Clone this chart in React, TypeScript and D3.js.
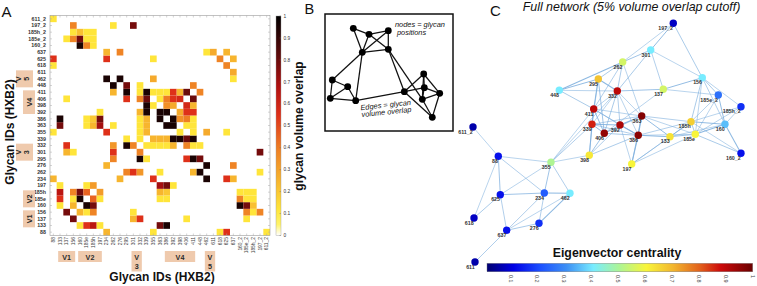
import React from "react";
import * as d3 from "d3";

// ---------------- DATA ----------------
const glycans = ["88","133","137","156","160","185e","185h","197","234","262","276","295","301","332","339","355","363","386","392","398","406","411","448","462","611","618","625","637","160_2","185e_2","185h_2","197_2","611_2"];

// glycan volume overlap (symmetric pairs)
const overlapPairs: [string, string, number][] = [
  ["133","160",0.12],["133","185e",0.55],["133","185h",0.65],["133","197",0.12],
  ["137","156",0.78],["156","160",0.25],["156","185e",0.12],["156","185h",0.38],
  ["160","185e",0.95],["160","185h",0.78],["185e","185h",0.45],["185e","197",0.12],["185h","197",0.32],
  ["88","234",0.25],["133","363",0.78],["133","386",0.95],["185e","363",0.12],["185h","363",0.25],
  ["197","363",0.7],["185e","386",0.12],["185h","386",0.2],["197","386",0.78],["197","392",0.12],
  ["137","406",0.12],["137","301",0.25],["156","301",0.12],["137","332",0.55],
  ["88","355",0.12],["234","355",0.55],["234","276",0.25],
  ["262","295",0.38],["262","301",0.55],["262","332",0.33],["262","363",0.12],["262","411",0.25],["262","448",0.95],
  ["295","332",0.95],["295","339",0.12],["295","406",0.55],["295","411",0.95],["295","448",0.78],
  ["301","332",0.38],["332","339",0.12],["332","355",0.12],["332","363",0.12],["332","386",0.12],["332","392",0.25],
  ["332","406",0.38],["332","411",0.12],["332","448",0.12],
  ["339","355",0.25],["339","363",0.25],["339","386",0.25],["339","392",0.95],["339","398",0.95],["339","406",0.8],["339","411",0.95],
  ["355","398",0.12],["355","411",0.12],["355","462",0.28],
  ["363","386",0.95],["363","392",0.95],["363","406",0.12],["363","411",0.12],
  ["386","392",0.95],["386","398",0.35],["386","406",0.4],["386","411",0.12],
  ["392","398",0.28],["392","406",0.55],["392","411",0.55],
  ["398","406",0.58],["398","411",0.25],["406","411",0.8],["411","448",0.38],
  ["234","462",0.95],["276","462",0.95],
  ["88","618",0.12],["88","625",0.55],["234","625",0.55],["355","625",0.12],["618","625",0.38],
  ["234","637",0.25],["276","637",0.38],["462","637",0.12],["611","637",0.28],["625","637",0.25],
  ["160","160_2",0.95],["185e","160_2",0.38],["185h","160_2",0.12],
  ["137","185e_2",0.12],["156","185e_2",0.38],["160","185e_2",0.78],["185e","185e_2",0.12],["185h","185e_2",0.12],
  ["156","185h_2",0.12],["160","185h_2",0.22],["185e","185h_2",0.12],["185h","185h_2",0.12],
  ["156","197_2",0.38],["262","197_2",0.12],["301","197_2",0.78],
  ["88","611_2",0.12],
];

const overlapTicks = [0,0.1,0.2,0.3,0.4,0.5,0.6,0.7,0.8,0.9,1];
const heatStops = [0,0.05,0.12,0.25,0.4,0.55,0.68,0.82,1];
const heatColors = ["#ffffff","#fff46a","#ffe53a","#f7b52e","#ee7d24","#de3019","#b01010","#5e0a0a","#000000"];

// variable-loop regions along the axes
const xRegions = [
  { name: ["V1"], from: "133", to: "156" },
  { name: ["V2"], from: "160", to: "197" },
  { name: ["V","3"], from: "301", to: "332" },
  { name: ["V4"], from: "386", to: "411" },
  { name: ["V","5"], from: "462", to: "611" },
];
const yRegions = [
  { name: ["V","5"], from: "448", to: "611" },
  { name: ["V4"], from: "392", to: "411" },
  { name: ["V","3"], from: "295", to: "332" },
  { name: ["V2"], from: "160", to: "185h" },
  { name: ["V1"], from: "133", to: "156" },
];

// network layout (layout units) and eigenvector centrality, in glycan order
const nodeLayoutX = [38.3,210,203.3,242.3,265,235.3,231,171.7,84.3,162.7,79,138.3,190.7,157.3,132,91,181.7,178.3,160,129.3,144.3,133.7,99.3,110,15,14,40.3,46.7,281,258.3,281,213.3,13];
const nodeLayoutY = [156.3,136.7,89.3,77.7,124.3,134.3,121.7,164,193,62,223.3,79,50,91,124.3,162.3,116,135.3,125,155.3,133.3,109,90.3,193.3,262,218,194.7,230.3,153.3,95,106.7,23.3,127];
const centrality = [0.12,0.63,0.55,0.4,0.35,0.6,0.66,0.6,0.22,0.55,0.16,0.68,0.4,0.9,0.86,0.5,0.97,0.96,0.92,0.62,0.95,0.9,0.4,0.4,0.05,0.07,0.12,0.12,0.12,0.25,0.16,0.07,0.05];

const centralityTicks = [0.1,0.2,0.3,0.4,0.5,0.6,0.7,0.8,0.9,1];
const jetStops = [0,0.1,0.2,0.3,0.4,0.5,0.6,0.7,0.8,0.88,1];
const jetColors = ["#000070","#0000e6","#1c50ff","#3d90f5","#78ecff","#aef593","#f8f53a","#f2b62e","#e2621c","#cc0a0a","#6a0000"];

// schematic (panel B)
const sketchX = [28.3,44,63.3,37.3,63.3,7.3,22.7,5.3,30.7,79.3,98.7,99.3,114.7,97.3,107.3];
const sketchY = [14.3,20.3,16.7,38.3,35.3,66,72.7,84.3,86.7,77.7,60,73.7,79.3,85.3,103.3];
const sketchEdges: [number, number][] = [
  [0,1],[1,2],[0,3],[1,3],[2,3],[1,4],[2,4],[3,4],[3,5],[3,8],[4,9],[4,13],
  [5,6],[5,7],[6,7],[6,8],[7,8],[8,9],
  [9,10],[9,11],[9,14],[10,11],[10,12],[10,13],[11,12],[11,13],[12,13],[12,14],[13,14],
];

const FONT = "'Liberation Sans', Arial, Helvetica, sans-serif";

export default function App() {
  // ---------- Panel A ----------
  const xA = d3.scaleBand<string>().domain(glycans).range([50, 270]);
  const yA = d3.scaleBand<string>().domain([...glycans].reverse()).range([15.5, 235.5]);
  const bw = xA.bandwidth();
  const bh = yA.bandwidth();
  const heat = d3.scaleLinear<string>().domain(heatStops).range(heatColors).interpolate(d3.interpolateRgb).clamp(true);
  const cells: { a: string; b: string; v: number }[] = [];
  overlapPairs.forEach(([a, b, v]) => {
    cells.push({ a, b, v });
    cells.push({ a: b, b: a, v });
  });
  const cbA = d3.scaleLinear().domain([0, 1]).range([235.5, 16]);

  // ---------- Panel C ----------
  const nx = d3.scaleLinear().domain([0, 300]).range([460, 760]);
  const ny = d3.scaleLinear().domain([0, 286]).range([0, 286]);
  const jet = d3.scaleLinear<string>().domain(jetStops).range(jetColors).interpolate(d3.interpolateRgb).clamp(true);
  const cbC = d3.scaleLinear().domain([0, 1]).range([483.5, 752.7]);
  const idx = new Map(glycans.map((g, i) => [g, i]));

  // ---------- Panel B ----------
  const sx = d3.scaleLinear().domain([0, 128]).range([325, 453]);
  const sy = d3.scaleLinear().domain([0, 117]).range([14, 131]);

  const tickPts = glycans.map((g) => g);

  return (
    <svg width={757} height={286} style={{ display: "block", position: "absolute", left: 0, top: 0, fontFamily: FONT }}>
      <defs>
        <linearGradient id="heatGrad" x1="0" y1="1" x2="0" y2="0">
          {heatStops.map((s, i) => (
            <stop key={i} offset={s} stopColor={heatColors[i]} />
          ))}
        </linearGradient>
        <linearGradient id="jetGrad" x1="0" y1="0" x2="1" y2="0">
          {jetStops.map((s, i) => (
            <stop key={i} offset={s} stopColor={jetColors[i]} />
          ))}
        </linearGradient>
      </defs>
      <rect x={0} y={0} width={757} height={286} fill="#fff" />

      {/* ===== Panel A ===== */}
      <text x={1.5} y={16.5} fontSize={15} fill="#111">A</text>
      {cells.map((c, i) => (
        <rect key={i} x={xA(c.a)!} y={yA(c.b)!} width={bw} height={bh} fill={heat(c.v)} />
      ))}
      <rect x={50} y={15.5} width={220} height={220} fill="none" stroke="#9a9a9a" strokeWidth={0.6} />
      {tickPts.map((g) => (
        <g key={"t" + g} stroke="#aaa" strokeWidth={0.5}>
          <line x1={xA(g)! + bw / 2} x2={xA(g)! + bw / 2} y1={15.5} y2={17.5} />
          <line x1={xA(g)! + bw / 2} x2={xA(g)! + bw / 2} y1={235.5} y2={233.5} />
          <line y1={yA(g)! + bh / 2} y2={yA(g)! + bh / 2} x1={270} x2={268} />
          <line y1={yA(g)! + bh / 2} y2={yA(g)! + bh / 2} x1={50} x2={52} />
        </g>
      ))}
      {glycans.map((g) => (
        <text key={"yl" + g} x={46} y={yA(g)! + bh / 2} dy="0.35em" textAnchor="end" fontSize={5.3} fontWeight="bold" fill="#333">{g}</text>
      ))}
      {glycans.map((g) => (
        <text key={"xl" + g} transform={`translate(${xA(g)! + bw / 2 + 1.8},237) rotate(-90)`} textAnchor="end" fontSize={4.9} fill="#444">{g}</text>
      ))}
      {/* regions on x axis */}
      {xRegions.map((r) => {
        const x0 = xA(r.from)! + 1.5;
        const x1 = xA(r.to)! + bw - 1.5;
        const two = r.name.length > 1;
        const h = two ? 20.5 : 11;
        return (
          <g key={"xr" + r.name.join("")}>
            <rect x={x0} y={251} width={x1 - x0} height={h} fill="#efcaad" />
            {r.name.map((t, k) => (
              <text key={k} x={(x0 + x1) / 2} y={259.5 + k * 9} textAnchor="middle" fontSize={7.2} fontWeight="bold" fill="#2a2a2a">{t}</text>
            ))}
          </g>
        );
      })}
      {/* regions on y axis */}
      {yRegions.map((r) => {
        const y0 = yA(r.to)! + 1.5;
        const y1 = yA(r.from)! + bh - 1.5;
        const two = r.name.length > 1;
        const xl = two ? 16 : 23;
        const xr = two ? 33 : 35;
        const cy = (y0 + y1) / 2;
        return (
          <g key={"yr" + r.name.join("")}>
            <rect x={xl} y={y0} width={xr - xl} height={y1 - y0} fill="#efcaad" />
            {r.name.map((t, k) => {
              const cx = two ? xl + 5.2 + k * 7.5 : (xl + xr) / 2 + 2.5;
              return (
                <text key={k} transform={`translate(${cx},${cy}) rotate(-90)`} textAnchor="middle" fontSize={7.2} fontWeight="bold" fill="#2a2a2a">{t}</text>
              );
            })}
          </g>
        );
      })}
      <text transform="translate(14,132) rotate(-90)" textAnchor="middle" fontSize={12} fontWeight="bold" fill="#111">Glycan IDs (HXB2)</text>
      <text x={162} y={281} textAnchor="middle" fontSize={12} fontWeight="bold" fill="#111">Glycan IDs (HXB2)</text>
      {/* colorbar A */}
      <rect x={276} y={16} width={5} height={219.5} fill="url(#heatGrad)" stroke="#999" strokeWidth={0.4} />
      {overlapTicks.map((t) => (
        <g key={"ca" + t}>
          <line x1={279.5} x2={281} y1={cbA(t)} y2={cbA(t)} stroke="#666" strokeWidth={0.4} />
          <text x={283.5} y={cbA(t)} dy="0.35em" fontSize={4.8} fill="#333">{t}</text>
        </g>
      ))}
      <text transform="translate(302.5,126) rotate(-90)" textAnchor="middle" fontSize={12} fontWeight="bold" fill="#111">glycan volume overlap</text>

      {/* ===== Panel B ===== */}
      <text x={304.5} y={13.5} fontSize={14.5} fill="#111">B</text>
      <rect x={325} y={14} width={128} height={117} fill="none" stroke="#111" strokeWidth={1.5} />
      {sketchEdges.map(([a, b], i) => (
        <line key={"se" + i} x1={sx(sketchX[a])} y1={sy(sketchY[a])} x2={sx(sketchX[b])} y2={sy(sketchY[b])} stroke="#111" strokeWidth={1.25} />
      ))}
      {sketchX.map((_, i) => (
        <circle key={"sn" + i} cx={sx(sketchX[i])} cy={sy(sketchY[i])} r={3.4} fill="#000" />
      ))}
      <text x={395} y={27} fontSize={7.4} fontStyle="italic" fill="#111">nodes = glycan</text>
      <text x={397} y={34.5} fontSize={7.4} fontStyle="italic" fill="#111">positions</text>
      <g transform="rotate(-6,386,108)">
        <text x={386} y={107.5} textAnchor="middle" fontSize={7.4} fontStyle="italic" fill="#111">Edges = glycan</text>
        <text x={386} y={114.5} textAnchor="middle" fontSize={7.4} fontStyle="italic" fill="#111">volume overlap</text>
      </g>

      {/* ===== Panel C ===== */}
      <text x={490} y={15.5} fontSize={15} fill="#111">C</text>
      <text x={631.5} y={11} textAnchor="middle" fontSize={12.4} fontStyle="italic" fill="#111">Full network (5% volume overlap cutoff)</text>
      {overlapPairs.map(([a, b, v], i) => {
        const ia = idx.get(a)!;
        const ib = idx.get(b)!;
        return (
          <line key={"e" + i} x1={nx(nodeLayoutX[ia])} y1={ny(nodeLayoutY[ia])} x2={nx(nodeLayoutX[ib])} y2={ny(nodeLayoutY[ib])}
            stroke="#7fb0de" strokeWidth={0.55 + v * 0.5} strokeOpacity={0.9} />
        );
      })}
      {glycans.map((g, i) => (
        <circle key={"n" + g} cx={nx(nodeLayoutX[i])} cy={ny(nodeLayoutY[i])} r={3.7} fill={jet(centrality[i])} />
      ))}
      {glycans.map((g, i) => (
        <text key={"nl" + g} x={nx(nodeLayoutX[i]) - 0.3} y={ny(nodeLayoutY[i]) + 6.6} textAnchor="end" fontSize={5.3} fontWeight="bold" fill="#333">{g}</text>
      ))}
      <text x={617} y={257} textAnchor="middle" fontSize={12.3} fontWeight="bold" fill="#111">Eigenvector centrality</text>
      <rect x={cbC(0.013)} y={263.3} width={cbC(1) - cbC(0.013)} height={8.5} fill="url(#jetGrad)" stroke="#777" strokeWidth={0.4} />
      {centralityTicks.map((t) => (
        <text key={"cc" + t} transform={`translate(${cbC(t)},275) rotate(90)`} dy="0.35em" fontSize={5.4} fill="#444">{t}</text>
      ))}
    </svg>
  );
}
